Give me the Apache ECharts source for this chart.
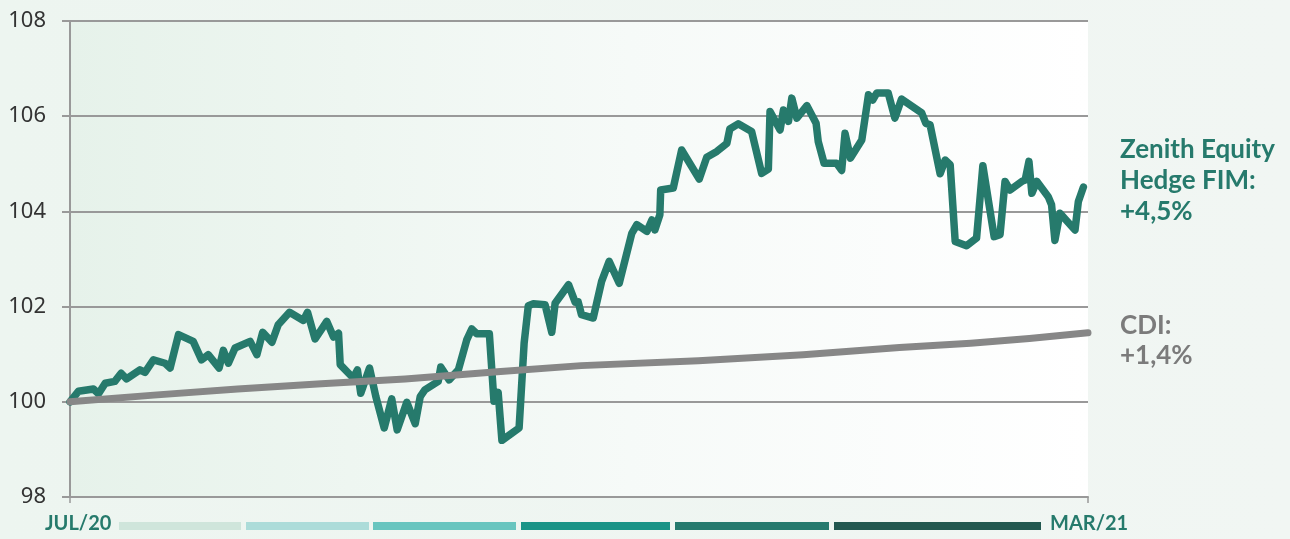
<!DOCTYPE html>
<html>
<head>
<meta charset="utf-8">
<script src="https://cdn.jsdelivr.net/npm/echarts@6/dist/echarts.min.js"></script>
<style>
html,body{margin:0;padding:0;background:#eff5f2;}
#chart{width:1290px;height:539px;}
</style>
</head>
<body>
<div id="chart"></div>
<script>
// Day index from start (JUL/20 = 0, MAR/21 = 243) and index level (base 100)
const fundDays = [0,2,5.6,6.8,8.4,10.7,12.2,13.5,16.7,17.9,19.9,22.7,23.9,25.9,29.4,31.4,33,35.6,36.6,37.8,39.4,43,44.6,46,48.2,49.7,52.4,55.7,56.7,58.5,61.3,62.9,64.1,64.5,67.6,68.6,69.4,71.5,73,75,76.8,78.1,80.4,82.4,83.6,84.7,87.9,88.5,90.5,92.7,94.7,95.9,97.1,100.1,101.2,102.2,103.1,107.2,108.4,109.4,110.6,113.4,115,115.8,119,120.6,121.3,122.1,124.9,126.9,128.7,131.1,134.1,135.3,137.7,138.9,139.6,140.8,141,144,146,150.2,152,154.4,156.8,157.5,159.5,162.7,165.1,166.7,167.1,169.5,170.3,171.5,172.3,173.5,175.9,178.1,178.6,180,183,184.2,185,186.3,189,190.6,191.6,192.6,195.3,196.9,198.5,203.3,204.3,205.3,207.7,208.9,210.1,211.3,214,216.4,217.9,220.6,222,223.2,224.4,227.2,228,228.9,229.6,230.8,233.5,234.3,235.1,236.3,239.9,240.7,241.9];
const fundValues = [100.00,100.22,100.27,100.17,100.39,100.43,100.60,100.48,100.67,100.62,100.88,100.81,100.71,101.41,101.27,100.88,100.99,100.71,101.08,100.81,101.13,101.27,100.99,101.46,101.25,101.62,101.88,101.71,101.88,101.32,101.69,101.36,101.44,100.78,100.50,100.67,100.18,100.71,100.11,99.45,100.06,99.41,99.99,99.54,100.11,100.25,100.43,100.73,100.46,100.67,101.30,101.53,101.43,101.43,100.01,100.20,99.19,99.45,101.23,102.02,102.06,102.04,101.46,102.07,102.46,102.09,102.10,101.83,101.76,102.53,102.95,102.49,103.54,103.72,103.58,103.82,103.61,103.93,104.45,104.49,105.29,104.68,105.14,105.26,105.43,105.73,105.84,105.68,104.80,104.89,106.10,105.71,106.13,105.89,106.38,105.96,106.22,105.85,105.47,105.01,105.01,104.86,105.64,105.12,105.50,106.45,106.34,106.49,106.49,105.96,106.36,106.07,105.85,105.82,104.79,105.08,104.98,103.37,103.28,103.44,104.96,103.47,103.51,104.63,104.45,104.63,104.66,105.05,104.38,104.63,104.31,104.14,103.39,103.96,103.61,104.21,104.51];
const cdiDays = [0,20,40,60,80,102,122,150,175,198,215,229,243];
const cdiValues = [100.00,100.14,100.27,100.38,100.48,100.63,100.76,100.86,100.99,101.14,101.23,101.33,101.45];
const yTicks = [98,100,102,104,106,108];
const startLabel = 'JUL/20';
const endLabel = 'MAR/21';
const fundLabel = ['Zenith Equity', 'Hedge FIM:', '+4,5%'];
const cdiLabel = ['CDI:', '+1,4%'];
const periodColors = ['#cfe5db','#acdcd9','#68c5bf','#1a9487','#267a6e','#235850'];

const GREEN = '#267a6c';
const GRAY = '#878787';
const chart = echarts.init(document.getElementById('chart'), null, {renderer:'canvas'});

const fundData = fundDays.map((d,i)=>[d, fundValues[i]]);
const cdiData = cdiDays.map((d,i)=>[d, cdiValues[i]]);

const segX = [[119,241],[246,369],[373,516],[521,670],[675,829],[834,1041]];
const graphics = [];
segX.forEach((s,i)=>{
  graphics.push({type:'rect', shape:{x:s[0], y:522, width:s[1]-s[0], height:8}, style:{fill:periodColors[i]}, silent:true});
});
graphics.push({type:'text', left:45, top:514, style:{text:startLabel, fill:GREEN, font:'bold 20px Lato'}});
graphics.push({type:'text', left:1050, top:514, style:{text:endLabel, fill:GREEN, font:'bold 20px Lato'}});
fundLabel.forEach((t,i)=>{
  graphics.push({type:'text', left:1120, top:137+i*31, style:{text:t, fill:GREEN, font:'bold 26px Lato'}});
});
cdiLabel.forEach((t,i)=>{
  graphics.push({type:'text', left:1120, top:313+i*30, style:{text:t, fill:'#7b7b7b', font:'bold 26px Lato'}});
});

chart.setOption({
  backgroundColor: {type:'linear', x:0, y:0, x2:1, y2:0, colorStops:[{offset:0,color:'#edf5f0'},{offset:1,color:'#f1f6f3'}]},
  animation:false,
  grid:{left:70, right:202, top:21, bottom:42, show:true, borderWidth:0,
    backgroundColor:{type:'linear', x:0, y:0, x2:1, y2:0, colorStops:[{offset:0,color:'#e6f2ea'},{offset:0.55,color:'#f6faf8'},{offset:1,color:'#ffffff'}]}},
  xAxis:{type:'value', min:0, max:243, interval:243,
    axisLine:{show:true, onZero:false, lineStyle:{color:'#999', width:2}},
    axisTick:{show:true, length:6, lineStyle:{color:'#999', width:1.5}},
    axisLabel:{show:false}, splitLine:{show:false}},
  yAxis:{type:'value', min:yTicks[0], max:yTicks[yTicks.length-1], interval:2,
    axisLine:{show:true, lineStyle:{color:'#999', width:2}},
    axisTick:{show:true, length:8, lineStyle:{color:'#999', width:2}},
    axisLabel:{color:'#333', fontSize:22, fontFamily:'Noto Sans', margin:24},
    splitLine:{show:true, lineStyle:{color:'#999', width:2}}},
  series:[
    {type:'line', data:fundData, showSymbol:false, lineStyle:{color:GREEN, width:7.5, cap:'round', join:'round'}, z:2},
    {type:'line', data:cdiData, showSymbol:false, lineStyle:{color:GRAY, width:7, cap:'round', join:'round'}, z:3}
  ],
  graphic: graphics
});
</script>
</body>
</html>
